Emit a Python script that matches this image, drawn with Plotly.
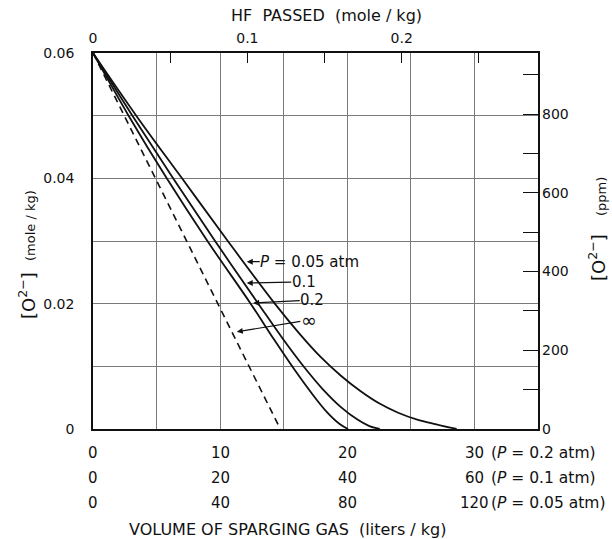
import plotly.graph_objects as go

# ---------------- data (x in liters/kg at P = 0.2 atm, y in mole/kg) ----------------
dashed_x = [0, 14.73]
dashed_y = [0.06, 0.0]

p02_x = [0, 2.8, 5.8, 9.0, 12.4, 14.2, 15.8, 17.2, 18.4, 19.4, 20.06]
p02_y = [0.06, 0.05, 0.04, 0.03, 0.02, 0.0144, 0.0096, 0.0057, 0.0027, 0.0008, 0.0]

p01_x = [0, 3.1, 6.3, 9.6, 13.0, 15.0, 16.6, 18.1, 19.5, 20.8, 21.7, 22.55]
p01_y = [0.06, 0.05, 0.04, 0.03, 0.02, 0.0142, 0.0099, 0.0063, 0.0035, 0.0015, 0.0005, 0.0]

p005_x = [0, 3.4, 7.0, 10.6, 14.3, 16.2, 17.9, 19.5, 21.0, 22.5, 24.0, 25.5, 27.0, 28.6]
p005_y = [0.06, 0.05, 0.04, 0.03, 0.02, 0.0153, 0.0115, 0.0085, 0.0061, 0.0041, 0.0026,
          0.0015, 0.00075, 0.0]

# axis ticks / labels
x_grid = [0, 5, 10, 15, 20, 25, 30, 35]
bottom_pos = [0, 10, 20, 30]
row_p02 = ["0", "10", "20", "30"]
row_p01 = ["0", "20", "40", "60"]
row_p005 = ["0", "40", "80", "120"]
row_suffix = ["(<i>P</i> = 0.2 atm)", "(<i>P</i> = 0.1 atm)", "(<i>P</i> = 0.05 atm)"]

left_vals = [0, 0.02, 0.04, 0.06]
left_text = ["0", "0.02", "0.04", "0.06"]
left_minor = [0.01, 0.03, 0.05]

hf_vals = [0, 0.1, 0.2]
hf_text = ["0", "0.1", "0.2"]
hf_minor = [0.05, 0.15, 0.25]
hf_max = 0.2883

ppm_vals = [0, 200, 400, 600, 800]
ppm_text = ["0", "200", "400", "600", "800"]
ppm_minor = [100, 300, 500, 700, 900]
ppm_max = 955

curve_labels = ["<i>P</i> = 0.05 atm", "0.1", "0.2", "\u221e"]
label_tip_x = [12.09, 12.09, 12.60, 11.31]
label_tip_y = [0.0267, 0.0233, 0.0201, 0.0155]
label_ax = [63, 57, 59, 72]
label_ay = [0, -1, -3, -12]
label_size = [15, 15, 15, 19]

FONT = "DejaVu Sans"
BLACK = "#111111"
GRID = "#7a7a7a"

# plot-area pixel geometry (for placing the outside texts)
PL, PR, PT, PB = 93, 538, 53, 429


def px_x(px):
    return (px - PL) / (PR - PL)


def px_y(py):
    return (PB - py) / (PB - PT)


fig = go.Figure()
fig.add_trace(go.Scatter(x=dashed_x, y=dashed_y, mode="lines",
                         line=dict(color=BLACK, width=1.6, dash="7px,5px"), showlegend=False))
for xs, ys in [(p02_x, p02_y), (p01_x, p01_y), (p005_x, p005_y)]:
    fig.add_trace(go.Scatter(x=xs, y=ys, mode="lines",
                             line=dict(shape="spline", smoothing=1.0, color=BLACK, width=1.8),
                             showlegend=False))
# invisible traces to activate secondary axes
fig.add_trace(go.Scatter(x=[0], y=[0], xaxis="x2", yaxis="y", mode="markers",
                         marker=dict(opacity=0), showlegend=False, hoverinfo="skip"))
fig.add_trace(go.Scatter(x=[0], y=[0], xaxis="x", yaxis="y2", mode="markers",
                         marker=dict(opacity=0), showlegend=False, hoverinfo="skip"))

fig.update_layout(
    width=612, height=539,
    margin=dict(l=PL, r=612 - PR, t=PT, b=539 - PB, autoexpand=False),
    paper_bgcolor="white", plot_bgcolor="white",
    font=dict(family=FONT, size=14, color=BLACK),
    xaxis=dict(range=[0, 35], tickvals=x_grid, showticklabels=False, ticks="",
               showgrid=True, gridcolor=GRID, gridwidth=1, automargin=False,
               showline=True, linecolor=BLACK, linewidth=1.5, mirror=True, zeroline=False),
    xaxis2=dict(range=[0, hf_max], overlaying="x", side="top", anchor="y",
                tickvals=hf_vals, ticktext=hf_text, ticks="inside", ticklen=10,
                tickcolor=BLACK, tickwidth=1.3, showgrid=False, zeroline=False, automargin=False,
                minor=dict(tickvals=hf_minor, ticks="inside", ticklen=10, tickcolor=BLACK,
                           tickwidth=1.3, showgrid=False),
                tickfont=dict(size=14), ticklabelstandoff=6),
    yaxis=dict(range=[0, 0.06], tickvals=left_vals, ticktext=left_text, ticks="",
               showgrid=True, gridcolor=GRID, gridwidth=1, ticklabelstandoff=14,
               minor=dict(tickvals=left_minor, ticks="", showgrid=True, gridcolor=GRID, gridwidth=1),
               showline=True, linecolor=BLACK, linewidth=1.5, mirror=True, zeroline=False,
               automargin=False, tickfont=dict(size=14)),
    yaxis2=dict(range=[0, ppm_max], overlaying="y", side="right", anchor="x",
                tickvals=ppm_vals, ticktext=ppm_text, ticks="inside", ticklen=15,
                tickcolor=BLACK, tickwidth=1.3, showgrid=False, zeroline=False,
                minor=dict(tickvals=ppm_minor, ticks="inside", ticklen=15, tickcolor=BLACK,
                           tickwidth=1.3, showgrid=False),
                automargin=False, ticklabelstandoff=3, tickfont=dict(size=14)),
)

ann = []
# curve labels with arrows
for t, tx, ty, axp, ayp, fs in zip(curve_labels, label_tip_x, label_tip_y, label_ax, label_ay, label_size):
    ann.append(dict(x=tx, y=ty, xref="x", yref="y", text=t, showarrow=True,
                    ax=axp, ay=ayp, arrowhead=2, arrowsize=1, arrowwidth=1.2,
                    arrowcolor=BLACK, standoff=0, font=dict(size=fs), borderpad=0))
# bottom three rows of scale labels
row_y = [453, 478, 503]
for rows, yy, suf in zip([row_p02, row_p01, row_p005], row_y, row_suffix):
    for pos, lab in zip(bottom_pos, rows):
        ann.append(dict(x=pos, y=px_y(yy), xref="x", yref="paper", text=lab,
                        showarrow=False, xanchor="center", yanchor="middle", font=dict(size=15)))
    ann.append(dict(x=bottom_pos[-1], y=px_y(yy), xref="x", yref="paper", text=suf,
                    showarrow=False, xanchor="left", yanchor="middle", xshift=15, font=dict(size=15.5)))
# axis titles
ann.append(dict(x=px_x(287), y=px_y(529), xref="paper", yref="paper",
                text="VOLUME OF SPARGING GAS  (liters / kg)", showarrow=False,
                xanchor="center", yanchor="middle", font=dict(size=16)))
ann.append(dict(x=px_x(326), y=px_y(15), xref="paper", yref="paper",
                text="HF  PASSED  (mole / kg)", showarrow=False,
                xanchor="center", yanchor="middle", font=dict(size=16)))
ann.append(dict(x=px_x(27), y=px_y(296), xref="paper", yref="paper",
                text="[O<sup>2\u2212</sup>]", showarrow=False, textangle=-90,
                xanchor="center", yanchor="middle", font=dict(size=18)))
ann.append(dict(x=px_x(30), y=px_y(226), xref="paper", yref="paper",
                text="(mole / kg)", showarrow=False, textangle=-90,
                xanchor="center", yanchor="middle", font=dict(size=13)))
ann.append(dict(x=px_x(597), y=px_y(258), xref="paper", yref="paper",
                text="[O<sup>2\u2212</sup>]", showarrow=False, textangle=-90,
                xanchor="center", yanchor="middle", font=dict(size=18)))
ann.append(dict(x=px_x(601), y=px_y(197), xref="paper", yref="paper",
                text="(ppm)", showarrow=False, textangle=-90,
                xanchor="center", yanchor="middle", font=dict(size=13)))
fig.update_layout(annotations=ann)

fig.write_html("out.html", config={"displayModeBar": False},
               post_script="document.body.style.margin='0';")
